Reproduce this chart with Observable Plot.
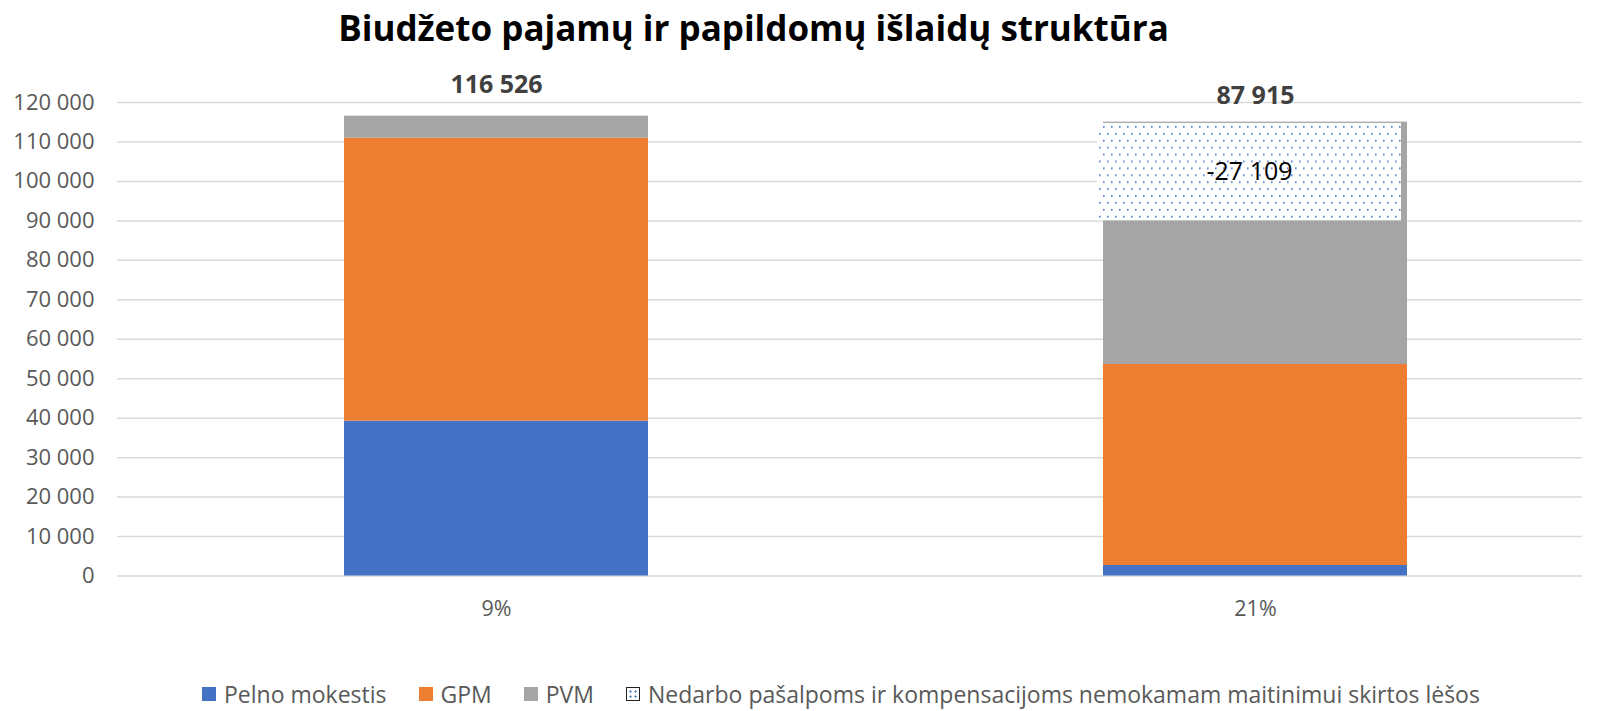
<!DOCTYPE html>
<html><head><meta charset="utf-8">
<script src="https://cdn.jsdelivr.net/npm/d3@7"></script>
<script src="https://cdn.jsdelivr.net/npm/@observablehq/plot@0.6"></script>
<style>
body{margin:0;background:#fff;font-family:"Open Sans",sans-serif;}
#wrap{position:relative;width:1611px;height:711px;overflow:hidden;background:#fff}
#title{position:absolute;left:0;width:1507px;top:6px;text-align:center;font-weight:700;font-size:35px;line-height:44px;color:#000;}
#chart{position:absolute;left:0;top:62px;width:1611px;height:588px}
#legend{position:absolute;left:202px;top:681px;height:26px;display:flex;align-items:center;font-size:23px;color:#595959;line-height:26px;white-space:nowrap}
.item{display:flex;align-items:center;margin-right:32px}
.sw{width:14px;height:14px;margin-right:8px;box-sizing:border-box}
</style></head><body><div id="wrap">
<div id="title">Biudžeto pajamų ir papildomų išlaidų struktūra</div>
<div id="chart"></div>
<div id="legend"></div>
</div>
<script>
const categories = ["9%", "21%"];
const seriesNames = ["Pelno mokestis", "GPM", "PVM"];
const pelno = [39230, 2660];
const gpm = [71720, 50940];
const pvm = [5576, 61424];
const totals = [116526, 87915];
const nedarboName = "Nedarbo pašalpoms ir kompensacijoms nemokamam maitinimui skirtos lėšos";
const nedarboValue = [null, -27109];
const nedarboBottom = [null, 90000];
const nedarboTop = [null, 114700];
const yTicks = [0, 10000, 20000, 30000, 40000, 50000, 60000, 70000, 80000, 90000, 100000, 110000, 120000];
const colors = ["#4472c4", "#ed7d31", "#a5a5a5"];
const dotColor = "#4472c4";

const fmt = d3.formatLocale({thousands: " ", grouping: [3], decimal: ",", currency: ["", ""], minus: "-"}).format(",d");

const seriesValues = [pelno, gpm, pvm];
const rows = categories.flatMap((c, i) => seriesNames.map((s, k) => ({cat: c, series: s, value: seriesValues[k][i]})));
const totRows = categories.map((c, i) => ({cat: c, top: pelno[i] + gpm[i] + pvm[i], total: totals[i]}));
const nedRows = categories.map((c, i) => ({cat: c, lo: nedarboBottom[i], hi: nedarboTop[i], v: nedarboValue[i]})).filter(d => d.v != null);

const defsMark = () => {
  const ns = "http://www.w3.org/2000/svg";
  const defs = document.createElementNS(ns, "defs");
  defs.innerHTML = `<pattern id="dots" patternUnits="userSpaceOnUse" width="8" height="13.8">
    <rect width="8" height="13.8" fill="#fff"></rect>
    <rect x="1" y="2" width="1.6" height="1.6" fill="${dotColor}"></rect>
    <rect x="5" y="8.9" width="1.6" height="1.6" fill="${dotColor}"></rect>
  </pattern>`;
  return defs;
};

const chart = Plot.plot({
  width: 1611, height: 588,
  marginLeft: 117, marginRight: 29, marginTop: 40, marginBottom: 74.5,
  style: {fontFamily: "Open Sans", background: "white"},
  x: {domain: categories, range: [116, 1635], paddingInner: 0.6, paddingOuter: 0.3, label: null},
  y: {domain: [0, 120000], label: null},
  color: {domain: seriesNames, range: colors},
  marks: [
    defsMark,
    Plot.ruleY(yTicks, {stroke: "#d9d9d9", strokeWidth: 1.5}),
    Plot.axisY({ticks: yTicks, tickSize: 0, tickPadding: 23, tickFormat: fmt, fontSize: 22, color: "#595959", label: null}),
    Plot.axisX({tickSize: 0, tickPadding: 25, fontSize: 21.5, color: "#595959", label: null}),
    Plot.barY(rows, {x: "cat", y: "value", fill: "series", order: seriesNames}),
    Plot.barY(nedRows, {x: "cat", y1: "lo", y2: "hi", fill: "url(#dots)", dx: -6}),
    Plot.text(nedRows, {x: "cat", y: d => (d.lo + d.hi) / 2, text: d => fmt(d.v), fontSize: 25, fill: "#000", dx: -6}),
    Plot.text(totRows.filter(d => d.cat === categories[0]), {x: "cat", y: "top", text: d => fmt(d.total), dy: -31, fontSize: 25, fontWeight: 700, fill: "#404040"}),
    Plot.text(totRows.filter(d => d.cat === categories[1]), {x: "cat", y: "top", text: d => fmt(d.total), dy: -26, fontSize: 25, fontWeight: 700, fill: "#404040"})
  ]
});
document.getElementById("chart").appendChild(chart);

const legend = document.getElementById("legend");
const items = seriesNames.map((s, k) => ({name: s, style: `background:${colors[k]}`}));
items.push({name: nedarboName, style: `border:1.5px solid #222;background-color:#fff;background-image:radial-gradient(${dotColor} 0.9px, transparent 1.2px);background-size:5px 5px;background-position:1px 1px`});
for (const it of items) {
  const d = document.createElement("div");
  d.className = "item";
  const sw = document.createElement("div");
  sw.className = "sw";
  sw.setAttribute("style", it.style);
  const t = document.createElement("span");
  t.textContent = it.name;
  d.appendChild(sw); d.appendChild(t);
  legend.appendChild(d);
}
</script>
</body></html>
